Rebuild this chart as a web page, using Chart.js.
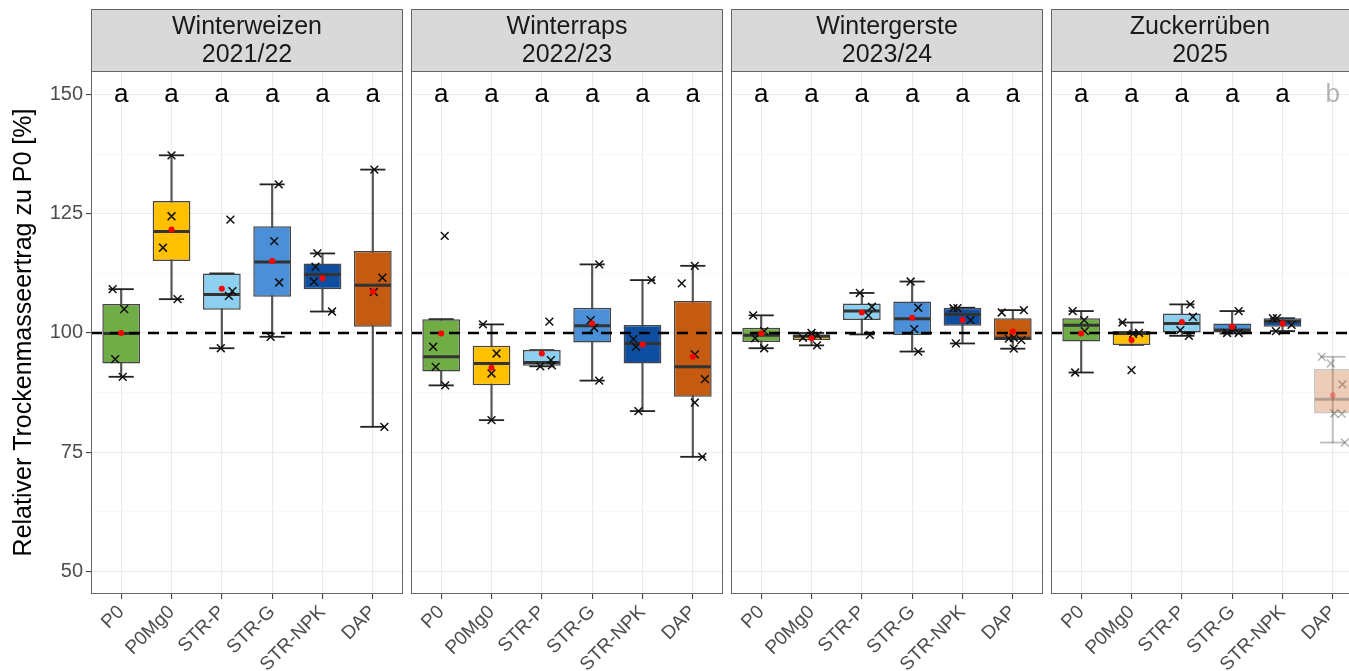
<!DOCTYPE html>
<html>
<head>
<meta charset="utf-8">
<script src="https://cdn.jsdelivr.net/npm/chart.js@4.4.1/dist/chart.umd.min.js"></script>
<style>
  html, body { margin: 0; padding: 0; background: #fff; overflow: hidden; width: 1349px; height: 671px; }
  body { position: relative; }
  .panel { position: absolute; top: 0; height: 671px; }
</style>
</head>
<body>
<script>
const treatments = ['P0', 'P0Mg0', 'STR-P', 'STR-G', 'STR-NPK', 'DAP']
const crops = ['Winterweizen', 'Winterraps', 'Wintergerste', 'Zuckerrüben']
const seasons = ['2021/22', '2022/23', '2023/24', '2025']
const yTitle = 'Relativer Trockenmasseertrag zu P0 [%]'
const boxColors = ['#70ad47', '#ffc000', '#8ccfee', '#4a8fd8', '#0e4ea0', '#c55a11']
const letters = [
    ['a', 'a', 'a', 'a', 'a', 'a'],
    ['a', 'a', 'a', 'a', 'a', 'a'],
    ['a', 'a', 'a', 'a', 'a', 'a'],
    ['a', 'a', 'a', 'a', 'a', 'b']
]
// treatments shown faded (only DAP in 2025)
const dimmed = [
    [0, 0, 0, 0, 0, 0],
    [0, 0, 0, 0, 0, 0],
    [0, 0, 0, 0, 0, 0],
    [0, 0, 0, 0, 0, 1]
]
const refLine = 100
const letterY = 150
const yTicks = [50, 62.5, 75, 87.5, 100, 112.5, 125, 137.5, 150]
const yLabels = [50, 75, 100, 125, 150]

// boxplot stats per crop (rows) and treatment (columns)
const whiskLow = [
    [90.8, 107.1, 96.8, 99.2, 104.5, 80.3],
    [89.0, 81.7, 93.0, 90.0, 83.6, 74.0],
    [96.8, 97.4, 99.7, 96.1, 97.8, 96.7],
    [91.7, 97.5, 99.4, 99.9, 100.4, 77.0]
]
const q1 = [
    [93.6, 115.1, 104.9, 107.6, 109.2, 101.3],
    [91.9, 89.0, 93.1, 98.0, 93.6, 86.6],
    [98.1, 98.5, 102.7, 99.6, 101.5, 98.5],
    [98.2, 97.5, 100.1, 100.1, 101.3, 83.1]
]
const median = [
    [99.9, 121.3, 108.1, 114.9, 112.3, 110.0],
    [95.0, 93.6, 93.8, 101.5, 97.8, 92.9],
    [99.5, 99.3, 104.6, 103.0, 103.9, 98.9],
    [101.6, 99.9, 102.0, 100.6, 102.4, 86.1]
]
const q3 = [
    [106.1, 127.7, 112.5, 122.4, 114.6, 117.2],
    [102.9, 97.3, 96.4, 105.3, 101.7, 106.7],
    [101.1, 99.7, 106.2, 106.6, 105.3, 103.1],
    [103.1, 100.4, 104.1, 102.0, 103.1, 92.5]
]
const whiskHigh = [
    [109.2, 137.3, 112.5, 131.2, 116.7, 134.3],
    [102.9, 101.8, 96.4, 114.4, 111.1, 114.1],
    [103.7, 100.0, 108.4, 110.8, 105.3, 104.8],
    [104.6, 102.2, 106.0, 104.6, 103.1, 95.0]
]
const means = [
    [100.0, 121.7, 109.3, 115.1, 111.5, 108.7],
    [99.9, 92.7, 95.7, 102.0, 97.6, 95.0],
    [99.9, 98.9, 104.3, 103.2, 102.7, 100.3],
    [99.9, 98.5, 102.3, 101.3, 102.0, 86.9]
]

// single plots (x marks) and their horizontal jitter in category units
const obs = [
    [[109.2, 105.0, 94.5, 90.8], [137.3, 124.5, 117.9, 107.1], [123.8, 108.8, 107.8, 96.8],
     [131.2, 119.3, 110.6, 99.2], [116.7, 113.9, 110.8, 104.5], [134.3, 111.6, 108.6, 80.3]],
    [[120.4, 97.1, 92.9, 89.0], [101.8, 95.7, 91.5, 81.7], [102.4, 94.3, 93.0, 93.2],
     [114.4, 102.7, 101.1, 90.0], [111.1, 98.7, 97.1, 83.6], [114.1, 110.4, 95.5, 90.3, 85.4, 74.0]],
    [[103.7, 100.4, 98.9, 96.8], [100.0, 99.5, 99.0, 97.4], [108.4, 105.5, 103.7, 99.6],
     [110.8, 105.3, 100.8, 96.1], [105.2, 105.2, 102.7, 97.8], [104.3, 104.8, 99.0, 98.8, 98.5, 96.7]],
    [[104.6, 102.7, 100.4, 91.7], [102.2, 100.0, 99.8, 92.2], [106.0, 103.4, 100.6, 99.4],
     [104.6, 100.6, 100.0, 100.0], [103.1, 103.1, 101.7, 100.4], [95.0, 93.6, 89.2, 83.1, 83.0, 77.0]]
]
const jitter = [
    [[-0.17, 0.06, -0.12, 0.03], [0, 0, -0.17, 0.12], [0.17, 0.21, 0.14, -0.02],
     [0.13, 0.04, 0.14, -0.03], [-0.1, -0.14, -0.17, 0.19], [0.03, 0.19, 0.02, 0.23]],
    [[0.07, -0.16, -0.11, 0.08], [-0.17, 0.1, 0, 0], [0.15, 0.18, -0.03, 0.2],
     [0.14, -0.03, 0.04, 0.14], [0.18, -0.18, -0.13, -0.08], [0.04, -0.22, 0.04, 0.24, 0.04, 0.19]],
    [[-0.16, 0.06, -0.12, 0.06], [0, 0.12, -0.17, 0.11], [-0.04, 0.2, 0.13, 0.16],
     [-0.03, 0.12, 0.04, 0.12], [-0.18, -0.1, 0.16, -0.13], [-0.22, 0.22, 0.02, -0.08, 0.17, 0.02]],
    [[-0.17, 0.06, 0.07, -0.12], [-0.18, 0.15, 0.03, 0], [0.17, 0.22, -0.03, 0.14],
     [0.13, 0.01, -0.1, 0.13], [-0.19, -0.11, 0.18, -0.13], [-0.22, -0.04, 0.19, 0.03, 0.18, 0.24]]
]

// layout
const PANEL_LEFT = [91, 411, 731, 1051]
const PANEL_W = 312
const PLOT_TOP = 71
const PLOT_BOTTOM = 594
const STRIP_TOP = 9
const X_MIN = 0.4, X_MAX = 6.6
const Y_MIN = 45.2, Y_MAX = 155.0
const BOX_WIDTH = 0.75
const CAP_WIDTH = 0.5
const DIM = 0.3

Chart.defaults.font.family = '"Liberation Sans", Arial, Helvetica, sans-serif'

function fade(hex, a) {
    const n = parseInt(hex.slice(1), 16)
    return `rgba(${n >> 16},${(n >> 8) & 255},${n & 255},${a})`
}
const tint = (p, i, c) => dimmed[p][i] ? fade(c, DIM) : c
const halfPx = (chart, u) => Math.abs(chart.scales.x.getPixelForValue(1 + u) - chart.scales.x.getPixelForValue(1))
const isMajor = c => c.tick && yLabels.includes(c.tick.value)

const facetDecor = {
    id: 'facet',
    afterDatasetsDraw(chart, args, opts) {
        const { ctx, scales: { x, y } } = chart
        const p = opts.panel
        ctx.save()
        ctx.font = '26px "Liberation Sans", Arial'
        ctx.textAlign = 'center'
        ctx.textBaseline = 'middle'
        letters[p].forEach((l, i) => {
            ctx.fillStyle = tint(p, i, '#000000')
            ctx.fillText(l, x.getPixelForValue(i + 1), y.getPixelForValue(letterY))
        })
        ctx.restore()
    },
    afterDraw(chart, args, opts) {
        const { ctx, chartArea: a } = chart
        const p = opts.panel
        ctx.save()
        ctx.fillStyle = '#d9d9d9'
        ctx.fillRect(a.left, STRIP_TOP, a.right - a.left, a.top - STRIP_TOP)
        ctx.strokeStyle = '#666'
        ctx.lineWidth = 1
        ctx.strokeRect(a.left + 0.5, STRIP_TOP + 0.5, a.right - a.left - 1, a.top - STRIP_TOP)
        ctx.strokeRect(a.left + 0.5, a.top + 0.5, a.right - a.left - 1, a.bottom - a.top - 1)
        // centre strip text on the visible part of the panel
        const visRight = Math.min(a.right, 1349 - chart.canvas.parentNode.offsetLeft)
        const cx = (a.left + visRight) / 2
        ctx.fillStyle = '#1a1a1a'
        ctx.font = '25px "Liberation Sans", Arial'
        ctx.textAlign = 'center'
        ctx.textBaseline = 'middle'
        ctx.fillText(crops[p], cx, 27)
        ctx.fillText(seasons[p], cx, 55)
        ctx.restore()
    }
}

function drawPanel(p) {
    const first = p === 0
    const wrap = document.createElement('div')
    wrap.className = 'panel'
    wrap.style.left = (first ? 0 : PANEL_LEFT[p] - 1) + 'px'
    wrap.style.width = (first ? PANEL_LEFT[0] + PANEL_W + 1 : PANEL_W + 2) + 'px'
    const canvas = document.createElement('canvas')
    wrap.appendChild(canvas)
    document.body.appendChild(wrap)

    const xs = treatments.map((t, i) => i + 1)
    const pts = [], ptColors = []
    obs[p].forEach((vals, i) => vals.forEach((v, k) => {
        pts.push({ x: i + 1 + jitter[p][i][k], y: v })
        ptColors.push(tint(p, i, '#111111'))
    }))
    const caps = [], capColors = []
    xs.forEach((x, i) => {
        caps.push({ x: x, y: whiskLow[p][i] }, { x: x, y: whiskHigh[p][i] })
        capColors.push(tint(p, i, '#222222'), tint(p, i, '#222222'))
    })

    const datasets = [
        {
            type: 'bar', order: 60, grouped: false,
            data: xs.map((x, i) => ({ x: x, y: [whiskLow[p][i], whiskHigh[p][i]] })),
            backgroundColor: xs.map((x, i) => tint(p, i, '#555555')),
            barThickness: 1.5, borderWidth: 0
        },
        {
            type: 'scatter', order: 55, data: caps,
            pointStyle: 'line', pointRadius: c => halfPx(c.chart, CAP_WIDTH / 2),
            pointBorderWidth: 1.8, pointBorderColor: capColors, pointBackgroundColor: capColors
        },
        {
            type: 'bar', order: 50, grouped: false,
            data: xs.map((x, i) => ({ x: x, y: [q1[p][i], q3[p][i]] })),
            backgroundColor: xs.map((x, i) => tint(p, i, boxColors[i])),
            borderColor: xs.map((x, i) => tint(p, i, '#444444')),
            borderWidth: 1.5, borderSkipped: false,
            categoryPercentage: 1, barPercentage: BOX_WIDTH
        },
        {
            type: 'scatter', order: 40,
            data: xs.map((x, i) => ({ x: x, y: median[p][i] })),
            pointStyle: 'line', pointRadius: c => halfPx(c.chart, BOX_WIDTH / 2) - 1,
            pointBorderWidth: 3, pointBorderColor: xs.map((x, i) => tint(p, i, '#333333'))
        },
        {
            type: 'line', order: 30,
            data: [{ x: X_MIN, y: refLine }, { x: X_MAX, y: refLine }],
            borderColor: '#000', borderWidth: 2.6, borderDash: [11, 8], pointRadius: 0
        },
        {
            type: 'scatter', order: 20, data: pts,
            pointStyle: 'crossRot', pointRadius: 5.5,
            pointBorderWidth: 1.5, pointBorderColor: ptColors
        },
        {
            type: 'scatter', order: 10,
            data: xs.map((x, i) => ({ x: x, y: means[p][i] })),
            pointStyle: 'circle', pointRadius: 3, pointBorderWidth: 0,
            pointBackgroundColor: xs.map((x, i) => tint(p, i, '#ff0000'))
        }
    ]

    new Chart(canvas, {
        type: 'scatter',
        data: { datasets: datasets },
        options: {
            responsive: true,
            maintainAspectRatio: false,
            animation: false,
            events: [],
            devicePixelRatio: 1,
            layout: {
                autoPadding: false,
                padding: { left: first ? 0 : 1, right: 1, top: PLOT_TOP, bottom: 0 }
            },
            plugins: {
                legend: { display: false },
                tooltip: { enabled: false },
                facet: { panel: p }
            },
            scales: {
                x: {
                    type: 'linear', min: X_MIN, max: X_MAX, offset: false,
                    afterBuildTicks: s => { s.ticks = xs.map(v => ({ value: v })) },
                    afterFit: s => {
                        s.height = 671 - PLOT_BOTTOM
                        s.paddingLeft = 0
                        s.paddingRight = 0
                    },
                    ticks: {
                        autoSkip: false, minRotation: 45, maxRotation: 45,
                        color: '#4d4d4d', font: { size: 19 }, padding: 2,
                        callback: v => treatments[v - 1]
                    },
                    grid: { offset: false, color: '#ebebeb', lineWidth: 1.1, tickColor: '#444', tickLength: 5 },
                    border: { display: false }
                },
                y: {
                    type: 'linear', min: Y_MIN, max: Y_MAX,
                    afterBuildTicks: s => { s.ticks = yTicks.map(v => ({ value: v })) },
                    afterFit: s => {
                        s.width = first ? PANEL_LEFT[0] : 0
                        s.paddingTop = 0
                        s.paddingBottom = 0
                    },
                    ticks: {
                        display: first, color: '#4d4d4d', font: { size: 20 }, padding: 3,
                        callback: v => yLabels.includes(v) ? String(v) : ''
                    },
                    grid: {
                        offset: false,
                        color: c => isMajor(c) ? '#ebebeb' : '#f5f5f5',
                        lineWidth: c => isMajor(c) ? 1.1 : 0.7,
                        tickColor: c => isMajor(c) ? '#444' : 'rgba(0,0,0,0)',
                        tickLength: 5, drawTicks: first
                    },
                    border: { display: false },
                    title: {
                        display: first, text: yTitle, color: '#000',
                        font: { size: 25 }, padding: { top: 9, bottom: 0 }
                    }
                }
            }
        },
        plugins: [facetDecor]
    })
}

for (let p = 0; p < crops.length; p++) {
    drawPanel(p)
}
</script>
</body>
</html>
